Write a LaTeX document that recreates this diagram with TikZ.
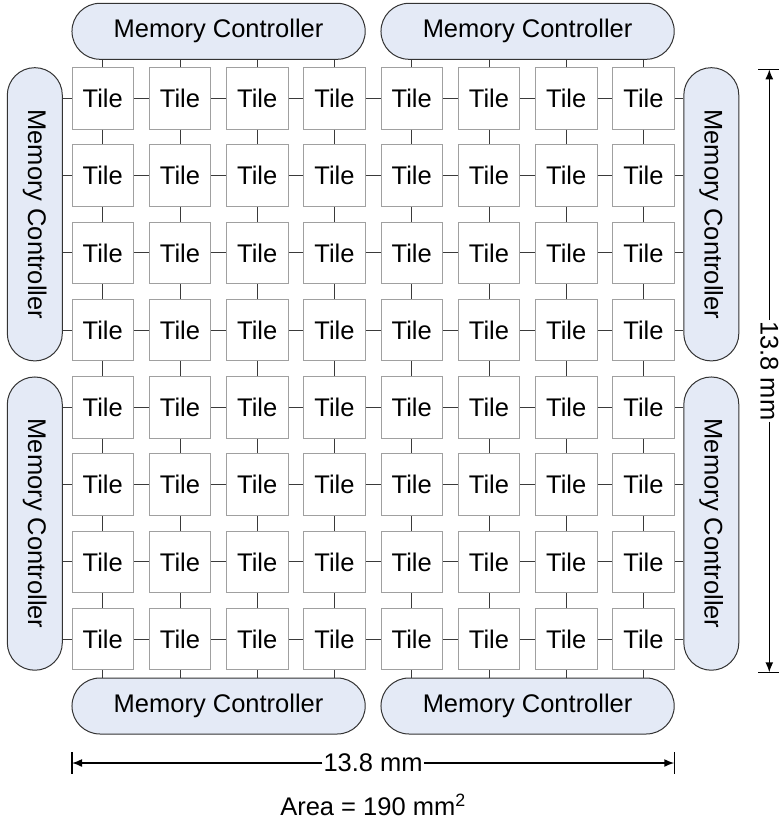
\documentclass[tikz,border=0pt]{standalone}
\usepackage{fontspec}
\setmainfont{Liberation Sans}
\usetikzlibrary{shapes.misc,arrows.meta}
\definecolor{mcfill}{HTML}{E4EAF6}
\definecolor{mcedge}{HTML}{333333}
\definecolor{tileedge}{HTML}{A0A0A0}
\definecolor{linkcol}{HTML}{3A3A3A}
\begin{document}
\begin{tikzpicture}[x=1pt,y=-1pt,
  lbl/.style={font=\fontsize{25.5}{30}\selectfont},
  tile/.style={lbl, draw=tileedge, line width=1pt, fill=white,
    minimum width=61.5pt, minimum height=61.5pt, inner sep=0pt},
  mc/.style={lbl, rounded rectangle, draw=mcedge, fill=mcfill,
    line width=1pt, inner sep=0pt},
  mch/.style={mc, minimum width=293.25pt, minimum height=56pt},
  mcv/.style={mc, rotate=-90, minimum width=293.25pt, minimum height=55pt},
  link/.style={draw=linkcol, line width=1pt},
  dim/.style={line width=1.5pt, -{Latex[length=10pt,width=8pt]}},
  tick/.style={line width=1.5pt},
  dimlabel/.style={lbl, inner sep=1pt}]
\useasboundingbox (0,0) rectangle (778,818);

% 8x8 mesh of tiles
\foreach \i in {0,...,7}
  \foreach \j in {0,...,7}
    \node[tile] (t-\i-\j) at ({102.75+77.25*\i},{98.45+77.25*\j}) {Tile};

% memory controllers around the mesh
\node[mch] (mcT1) at (218.6,31.3) {Memory Controller};
\node[mch] (mcT2) at (527.6,31.3) {Memory Controller};
\node[mch] (mcB1) at (218.6,706) {Memory Controller};
\node[mch] (mcB2) at (527.6,706) {Memory Controller};
\node[mcv] (mcL1) at (34.8,214.3) {Memory Controller};
\node[mcv] (mcL2) at (34.8,523.6) {Memory Controller};
\node[mcv] (mcR1) at (711.3,214.3) {Memory Controller};
\node[mcv] (mcR2) at (711.3,523.6) {Memory Controller};

% mesh links
\foreach \j in {0,...,7}
  \foreach \i in {0,...,6} {
    \pgfmathtruncatemacro\k{\i+1}
    \draw[link] (t-\i-\j.east) -- (t-\k-\j.west);
    \draw[link] (t-\j-\i.south) -- (t-\j-\k.north);
  }

% links to the memory controllers
\foreach \i in {0,...,3} {
  \pgfmathtruncatemacro\k{\i+4}
  \draw[link] (t-\i-0.north) -- (t-\i-0.north |- mcT1.south);
  \draw[link] (t-\k-0.north) -- (t-\k-0.north |- mcT2.south);
  \draw[link] (t-\i-7.south) -- (t-\i-7.south |- mcB1.north);
  \draw[link] (t-\k-7.south) -- (t-\k-7.south |- mcB2.north);
  \draw[link] (t-0-\i.west) -- (t-0-\i.west -| mcL1.north);
  \draw[link] (t-0-\k.west) -- (t-0-\k.west -| mcL2.north);
  \draw[link] (t-7-\i.east) -- (t-7-\i.east -| mcR1.south);
  \draw[link] (t-7-\k.east) -- (t-7-\k.east -| mcR2.south);
}

% horizontal dimension
\coordinate (dl) at (72,763);
\coordinate (dr) at (674.25,763);
\node[dimlabel] (hlab) at (373.1,763) {13.8 mm};
\draw[dim] (hlab.west) -- (dl);
\draw[dim] (hlab.east) -- (dr);
\draw[tick] ([yshift=11pt]dl) -- ([yshift=-11pt]dl);
\draw[tick] ([yshift=11pt]dr) -- ([yshift=-11pt]dr);

% vertical dimension
\coordinate (dt) at (769.3,69.3);
\coordinate (db) at (769.3,672.3);
\node[dimlabel, rotate=-90] (vlab) at (769.3,370.8) {13.8 mm};
\draw[dim] (vlab.west) -- (dt);
\draw[dim] (vlab.east) -- (db);
\draw[tick] ([xshift=-11pt]dt) -- ([xshift=11pt]dt);
\draw[tick] ([xshift=-11pt]db) -- ([xshift=11pt]db);

% chip area
\node[dimlabel] (area) at (373,805) {Area = 190 mm\textsuperscript{2}};
\end{tikzpicture}
\end{document}
